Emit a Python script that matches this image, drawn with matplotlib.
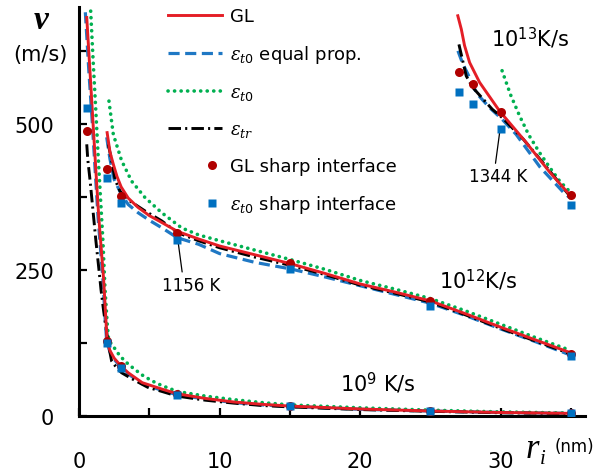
import matplotlib
matplotlib.use('Agg')
import matplotlib.pyplot as plt
from matplotlib.lines import Line2D
from matplotlib.legend_handler import HandlerLine2D
from matplotlib.ticker import FixedLocator

plt.rcParams['font.family'] = ['DejaVu Sans']
plt.rcParams['mathtext.fontset'] = 'custom'
plt.rcParams['mathtext.rm'] = 'DejaVu Sans'
plt.rcParams['mathtext.it'] = 'DejaVu Serif:italic'
plt.rcParams['mathtext.bf'] = 'DejaVu Sans:bold'
plt.rcParams['lines.scale_dashes'] = False

# ---- 10^9 K/s ----
r9_gl = [0.55, 0.8, 1.0, 1.2, 1.4, 1.6, 1.75, 1.9, 2.0, 2.2, 2.5, 3.0, 3.5, 4.5, 5.9, 7, 9, 11, 13, 15, 20, 25, 30, 35]
v9_gl = [682, 582, 500, 420, 342, 280, 234, 170, 127, 112, 99, 85, 74, 57, 46, 38, 30, 24, 20, 17, 12, 8.5, 6, 4.5]
r9_eq = [0.45, 0.7, 0.95, 1.15, 1.35, 1.55, 1.7, 1.85, 1.97, 2.2, 2.5, 3.0, 3.5, 4.5, 5.9, 7, 9, 11, 13, 15, 20, 25, 30, 35]
v9_eq = [691, 590, 500, 420, 342, 280, 234, 170, 127, 110, 97, 83, 72, 55, 44, 36, 29, 23, 19, 16.5, 11.5, 8.5, 6, 4.5]
r9_et0 = [0.83, 1.0, 1.2, 1.35, 1.5, 1.7, 1.85, 2.0, 2.1, 2.3, 2.56, 2.9, 3.4, 3.9, 4.5, 5.2, 5.9, 7, 9, 11, 13, 15, 20, 25, 30, 35]
v9_et0 = [693, 610, 520, 450, 385, 300, 217, 160, 132, 123, 115, 103, 91, 81, 70, 60, 52, 42, 34, 28, 23, 19, 14, 10, 7, 5]
r9_etr = [0.55, 0.62, 0.8, 1.0, 1.2, 1.49, 1.56, 1.75, 1.97, 2.15, 2.32, 2.7, 3.03, 3.6, 4.2, 4.9, 5.9, 7, 9, 11, 13, 15, 20, 25, 30, 35]
v9_etr = [465, 440, 400, 350, 300, 234, 217, 180, 143, 115, 94, 82, 74, 66, 58, 49, 42, 34, 27, 22, 18, 15.5, 11, 8, 5.5, 4]
r9_pts = [0.55, 2, 3, 7, 15, 25, 35]
v9_gl_sharp = [487, 128, 85, 37, 17, 9, 4.5]
v9_et0_sharp = [527, 125, 83, 36, 17, 8.6, 4.6]

# ---- 10^12 K/s ----
r12_gl = [2.0, 2.2, 2.45, 2.7, 3.0, 3.5, 4.2, 5.0, 5.9, 7.0, 8.5, 10, 12.5, 15, 17.5, 20, 22.5, 25, 27.5, 30, 32.5, 35]
v12_gl = [485, 452, 430, 410, 392, 373, 357, 343, 331, 316, 303, 291, 276, 261, 244, 226, 212, 197, 175, 152, 130, 108]
r12_eq = [1.97, 2.2, 2.5, 3.0, 3.5, 4.2, 5.0, 5.9, 7.0, 8.5, 10, 12.5, 15, 17.5, 20, 22.5, 25, 27.5, 30, 32.5, 35]
v12_eq = [477, 440, 405, 380, 362, 348, 335, 322, 305, 294, 278, 263, 252, 238, 223, 208, 193, 172, 149, 127, 104]
r12_et0 = [2.13, 2.44, 3.03, 3.74, 4.69, 5.88, 7.3, 8.5, 10, 12.5, 15, 17.5, 20, 22.5, 25, 27.5, 30, 32.5, 35]
v12_et0 = [539, 482, 437, 402, 374, 348, 322, 310, 300, 284, 268, 251, 232, 217, 201, 180, 157, 134, 112]
r12_etr = [2.08, 2.3, 2.56, 2.91, 3.62, 4.69, 5.88, 7.0, 8.5, 10, 12.5, 15, 17.5, 20, 22.5, 25, 27.5, 30, 32.5, 35]
v12_etr = [465, 440, 405, 385, 368, 351, 334, 314, 300, 288, 272, 258, 242, 224, 210, 195, 173, 150, 128, 106]
r12_pts = [2, 3, 7, 15, 25, 35]
v12_gl_sharp = [422, 377, 314, 262, 197, 106]
v12_et0_sharp = [408, 364, 301, 251, 188, 103]

# ---- 10^13 K/s ----
r13_gl = [26.95, 27.2, 27.43, 27.79, 28.5, 29.92, 31.82, 33.5, 35]
v13_gl = [685, 662, 634, 605, 571, 522, 468, 417, 376]
r13_eq = [26.96, 27.3, 27.67, 28.3, 29.2, 30.1, 31.1, 32.8, 34.5, 35]
v13_eq = [625, 603, 585, 552, 528, 508, 482, 426, 382, 372]
r13_et0 = [30.1, 30.7, 31.34, 32.0, 32.76, 33.5, 34.2, 35]
v13_et0 = [591, 550, 514, 481, 451, 425, 402, 382]
r13_etr = [27.03, 27.55, 28.02, 29.4, 30.1, 31.6, 33.2, 34.9, 35]
v13_etr = [636, 582, 562, 525, 511, 474, 428, 377, 374]
r13_pts = [27, 28, 30, 35]
v13_gl_sharp = [589, 568, 520, 378]
v13_et0_sharp = [554, 534, 492, 361]

labels = [
    'GL',
    r'$\varepsilon_{\mathit{t0}}$ equal prop.',
    r'$\varepsilon_{\mathit{t0}}$',
    r'$\varepsilon_{\mathit{tr}}$',
    'GL sharp interface',
    r'$\varepsilon_{\mathit{t0}}$ sharp interface',
]

RED = '#e41e26'
DARK_RED = '#b00000'
BLUE = '#1f78c4'
SQUARE = '#0070c0'
GREEN = '#00b050'

styles = [
    dict(color=RED, lw=2.1, zorder=4),
    dict(color=BLUE, lw=2.3, dashes=(8, 4), zorder=2),
    dict(color=GREEN, lw=2.6, dashes=(0.1, 4.6), dash_capstyle='round', zorder=3),
    dict(color='black', lw=2.1, dashes=(9, 3, 1.5, 3), zorder=3),
]
dot_style = dict(marker='o', color=DARK_RED, ms=6.5, mec='none', ls='none')
square_style = dict(marker='s', color=SQUARE, ms=5.8, mec='none', ls='none')


class RightMarker(HandlerLine2D):
    # put the single legend marker near the right end of the handle
    def get_xdata(self, legend, xdescent, ydescent, width, height, fontsize):
        xm = -xdescent + 0.81 * width
        d = 0.1 * width
        return [xm - d, xm + d], [xm]


families = [
    ([(r9_gl, v9_gl), (r9_eq, v9_eq), (r9_et0, v9_et0), (r9_etr, v9_etr)],
     r9_pts, v9_gl_sharp, v9_et0_sharp),
    ([(r12_gl, v12_gl), (r12_eq, v12_eq), (r12_et0, v12_et0), (r12_etr, v12_etr)],
     r12_pts, v12_gl_sharp, v12_et0_sharp),
    ([(r13_gl, v13_gl), (r13_eq, v13_eq), (r13_et0, v13_et0), (r13_etr, v13_etr)],
     r13_pts, v13_gl_sharp, v13_et0_sharp),
]

fig = plt.figure(figsize=(6, 4.77), dpi=100)
ax = fig.add_axes([0.1317, 0.1258, 0.8433, 0.8574])

handles = []
for i, (curves, r_pts, v_gl, v_et0) in enumerate(families):
    for (r, v), style in zip(curves, styles):
        line, = ax.plot(r, v, **style)
        if i == 0:
            handles.append(line)
    dots, = ax.plot(r_pts, v_gl, zorder=5, **dot_style)
    squares, = ax.plot(r_pts, v_et0, zorder=5, **square_style)
    if i == 0:
        handles += [dots, squares]

ax.set_xlim(0, 36)
ax.set_ylim(0, 700)
for side in ['top', 'right']:
    ax.spines[side].set_visible(False)
for side in ['left', 'bottom']:
    ax.spines[side].set_linewidth(2.2)

ax.xaxis.set_major_locator(FixedLocator([0, 10, 20, 30]))
ax.xaxis.set_minor_locator(FixedLocator([5, 15, 25, 35]))
ax.yaxis.set_major_locator(FixedLocator([0, 250, 500]))
ax.yaxis.set_minor_locator(FixedLocator([125, 375, 625]))
ax.tick_params(which='both', direction='in', length=6, width=1.6)
ax.tick_params(axis='x', which='major', labelsize=15, pad=25)
ax.tick_params(axis='y', which='major', labelsize=15, pad=18)

ax.legend(handles, labels, loc='upper left', bbox_to_anchor=(0.176, 1.0),
          frameon=False, fontsize=13, handlelength=3.0, handletextpad=0.45,
          labelspacing=1.0, borderpad=0, borderaxespad=0, numpoints=1,
          handler_map={handles[4]: RightMarker(), handles[5]: RightMarker()})

ax.text(32.1, 648, r'10$^{13}$K/s', fontsize=15, ha='center', va='center')
ax.text(28.4, 234, r'10$^{12}$K/s', fontsize=15, ha='center', va='center')
ax.text(21.3, 58, r'10$^{9}$ K/s', fontsize=15, ha='center', va='center')

ax.annotate('1156 K', xy=(7.05, 298), xytext=(8.0, 224), fontsize=12,
            ha='center', va='center',
            arrowprops=dict(arrowstyle='-', lw=0.9, color='black',
                            relpos=(0.35, 1.0), shrinkA=1, shrinkB=0))
ax.annotate('1344 K', xy=(29.92, 484), xytext=(29.8, 410), fontsize=12,
            ha='center', va='center',
            arrowprops=dict(arrowstyle='-', lw=0.9, color='black',
                            relpos=(0.45, 1.0), shrinkA=1, shrinkB=0))

fig.text(0.068, 0.958, 'v', fontsize=24, family='Liberation Serif',
         weight='bold', style='italic', ha='center', va='center')
fig.text(0.067, 0.885, '(m/s)', fontsize=15, ha='center', va='center')
fig.text(0.888, 0.058, 'r', fontsize=25, family='Liberation Serif',
         style='italic', ha='center', va='center')
fig.text(0.904, 0.036, 'i', fontsize=15, family='Liberation Serif',
         style='italic', ha='center', va='center')
fig.text(0.958, 0.063, '(nm)', fontsize=12, ha='center', va='center')

fig.savefig('out.png', dpi=100)
